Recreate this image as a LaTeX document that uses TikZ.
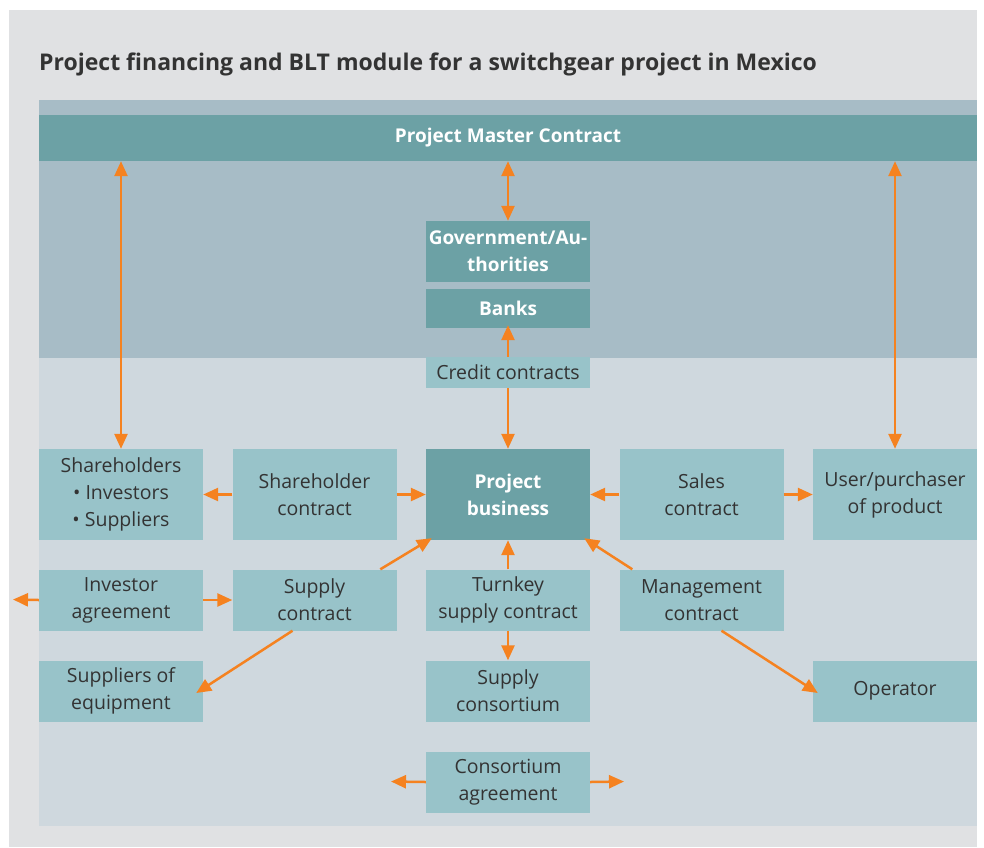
\documentclass[tikz,border=0pt]{standalone}
\usepackage{fontspec}
\setmainfont{Open Sans}
\usetikzlibrary{arrows.meta}
\definecolor{outerg}{HTML}{E0E1E3}
\definecolor{upperp}{HTML}{A7BCC6}
\definecolor{lowerp}{HTML}{CFD8DE}
\definecolor{darkbox}{HTML}{6CA1A5}
\definecolor{lightbox}{HTML}{98C3C9}
\definecolor{arrowc}{HTML}{F58220}
\definecolor{textc}{HTML}{333333}
\tikzset{
  lbox/.style={fill=lightbox, inner sep=0pt, minimum width=164pt, align=center,
    text=textc, font=\fontsize{19.5}{27}\selectfont},
  dbox/.style={fill=darkbox, inner sep=0pt, minimum width=164pt, align=center,
    text=white, font=\fontsize{19}{27}\selectfont\bfseries},
  arr/.style={draw=arrowc, line width=2.5pt, -{Triangle[length=15pt,width=13pt]}},
  dbl/.style={draw=arrowc, line width=2.5pt, {Triangle[length=15pt,width=13pt]}-{Triangle[length=15pt,width=13pt]}},
}
\begin{document}
\begin{tikzpicture}[x=1pt,y=-1pt]
\useasboundingbox (0,0) rectangle (984,847);
\fill[outerg] (9,10) rectangle (977,847);
\fill[lowerp] (39,100) rectangle (977,826);
\fill[upperp] (39,100) rectangle (977,358);
\node[anchor=base west, text=textc, font=\fontsize{23}{27}\selectfont\bfseries, inner sep=0pt] (title) at (39,70) {Project financing and BLT module for a switchgear project in Mexico};
\node[fill=darkbox, inner sep=0pt, minimum width=938pt, minimum height=46pt, text=white, font=\fontsize{19}{27}\selectfont\bfseries] (master) at (508,138) {Project Master Contract};

\node[dbox, minimum height=61pt] (gov) at (508,251.5) {Government/Au-\\thorities};
\node[dbox, minimum height=39pt] (banks) at (508,308.5) {Banks};

% row 1
\node[lbox, minimum height=91pt] (sh) at (121,494.5) {Shareholders\\ \textbullet\ Investors\\ \textbullet\ Suppliers};
\node[lbox, minimum height=91pt] (shc) at (314.5,494.5) {Shareholder\\contract};
\node[dbox, minimum height=91pt] (pb) at (508,494.5) {Project\\business};
\node[lbox, minimum height=91pt] (sac) at (701.5,494.5) {Sales\\contract};
\node[lbox, minimum height=91pt] (user) at (895,494.5) {User/purchaser\\of product};
% row 2
\node[lbox, minimum height=61pt] (ia) at (121,600) {Investor\\agreement};
\node[lbox, minimum height=61pt] (sc) at (314.5,600) {Supply\\contract};
\node[lbox, minimum height=61pt] (tk) at (508,600) {Turnkey\\supply contract};
\node[lbox, minimum height=61pt] (mc) at (701.5,600) {Management\\contract};
% row 3
\node[lbox, minimum height=61pt] (se) at (121,691) {Suppliers of\\equipment};
\node[lbox, minimum height=61pt] (scons) at (508,691) {Supply\\consortium};
\node[lbox, minimum height=61pt] (op) at (895,691) {Operator};
% row 4
\node[lbox, minimum height=61pt] (ca) at (508,782) {Consortium\\agreement};

\coordinate (iaL) at (13,599.5);
\coordinate (caL) at (391,781.5);
\coordinate (caR) at (624,781.5);

% arrows
\draw[dbl] (master.south -| sh.north) -- (sh.north);
\draw[dbl] (master.south -| gov.north) -- (gov.north);
\draw[dbl] (master.south -| user.north) -- (user.north);
\draw[dbl] ([yshift=3pt]banks.south) -- (pb.north);
\node[lbox, minimum height=31pt] (cc) at (508,372.5) {Credit contracts};

\draw[arr] (shc.west) -- (sh.east);
\draw[arr] (shc.east) -- (pb.west);
\draw[arr] (sac.west) -- (pb.east);
\draw[arr] (sac.east) -- (user.west);
\draw[arr] (ia.west) -- (iaL);
\draw[arr] (ia.east) -- (sc.west);
\draw[arr] ([xshift=148pt]sc.north west) -- ([xshift=6pt,yshift=2pt]pb.south west);
\draw[arr] ([xshift=-22pt]sc.south) -- ([xshift=-7pt,yshift=-2pt]se.east);
\draw[arr] (tk.north) -- (pb.south);
\draw[arr] (tk.south) -- (scons.north);
\draw[arr] ([xshift=13pt]mc.north west) -- ([xshift=-6pt,yshift=2pt]pb.south east);
\draw[arr] ([xshift=20pt]mc.south) -- ([xshift=5pt,yshift=-2pt]op.west);
\draw[arr] (ca.west) -- (caL);
\draw[arr] (ca.east) -- (caR);
\end{tikzpicture}
\end{document}
